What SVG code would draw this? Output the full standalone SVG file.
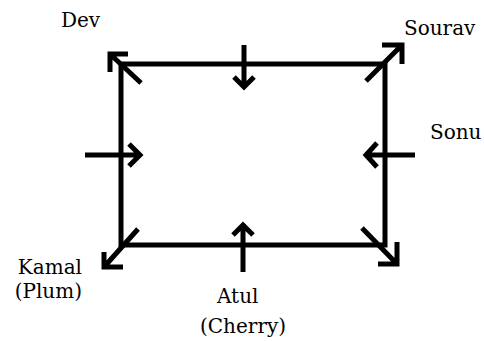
<svg xmlns="http://www.w3.org/2000/svg" width="484" height="341" viewBox="0 0 484 341">
<style>
.ln{fill:none;stroke:#000;stroke-width:5;stroke-linecap:butt;stroke-linejoin:miter}
.lb{font-family:"DejaVu Serif","Liberation Serif",serif;font-size:20px;fill:#000}
</style>
<rect width="484" height="341" fill="#fff"/>
<g id="connectors">
<rect class="ln" x="121" y="64" width="264" height="181"/>
<!-- Dev corner -->
<path class="ln" d="M141,83 L110,54 M128,54 L110,54 L110,72"/>
<!-- Sourav corner -->
<path class="ln" d="M366,81 L402,45 M382,45 L402,45 L402,64"/>
<!-- Kamal corner -->
<path class="ln" d="M138,229 L104,267 M104,252 L104,267 L123,267"/>
<!-- bottom-right corner -->
<path class="ln" d="M362,228 L397,264 M378,264 L397,264 L397,242"/>
<!-- top middle -->
<path class="ln" d="M244,45 L244,86 M234,77 L244,87 L254,77"/>
<!-- left middle -->
<path class="ln" d="M85,155 L139,155 M129,144 L140,155 L129,166"/>
<!-- right middle -->
<path class="ln" d="M415,155 L367,155 M377,143 L366,155 L377,167"/>
<!-- bottom middle -->
<path class="ln" d="M243,272 L243,226 M233,235 L243,225 L253,235"/>
</g>
<g id="dev"><text class="lb" x="61" y="27">Dev</text></g>
<g id="sourav"><text class="lb" x="404" y="35">Sourav</text></g>
<g id="sonu"><text class="lb" x="430" y="139">Sonu</text></g>
<g id="kamal"><text class="lb" x="82" y="274" text-anchor="end">Kamal</text><text class="lb" x="82" y="298" text-anchor="end">(Plum)</text></g>
<g id="atul"><text class="lb" x="217" y="303">Atul</text><text class="lb" x="200" y="333">(Cherry)</text></g>
</svg>
